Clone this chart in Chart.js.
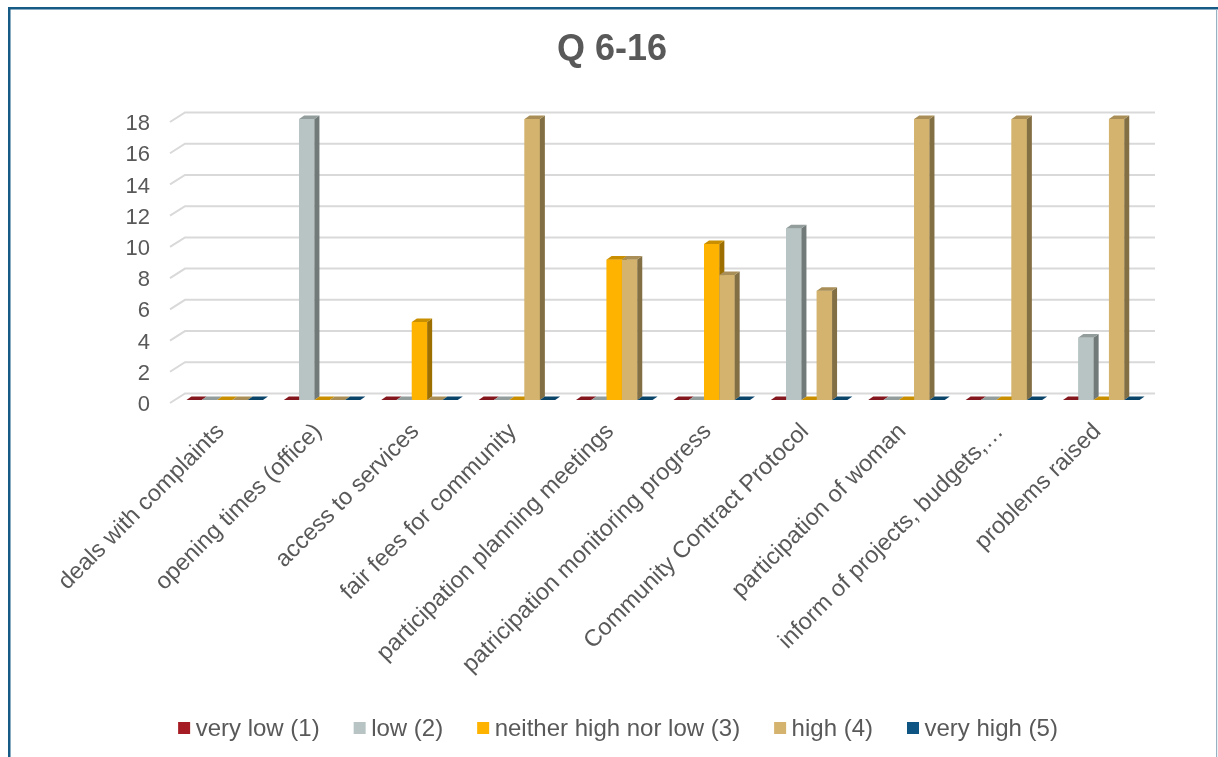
<!DOCTYPE html>
<html>
<head>
<meta charset="utf-8">
<script src="https://cdn.jsdelivr.net/npm/chart.js@4.4.1/dist/chart.umd.min.js"></script>
<style>
  html, body { margin: 0; padding: 0; background: #ffffff; }
  canvas { display: block; }
</style>
</head>
<body>
<canvas id="chart" width="1218" height="757"></canvas>
<script>
// Survey question Q 6-16: number of answers per rating level
const categories = [
  'deals with complaints',
  'opening times (office)',
  'access to services',
  'fair fees for community',
  'participation planning meetings',
  'patricipation monitoring progress',
  'Community Contract Protocol',
  'participation of woman',
  'inform of projects, budgets,…',
  'problems raised'
];
const seriesNames = ['very low (1)', 'low (2)', 'neither high nor low (3)', 'high (4)', 'very high (5)'];
const veryLow  = [0, 0, 0, 0, 0, 0, 0, 0, 0, 0];
const low      = [0, 18, 0, 0, 0, 0, 11, 0, 0, 4];
const neither  = [0, 0, 5, 0, 9, 10, 0, 0, 0, 0];
const high     = [0, 0, 0, 18, 9, 8, 7, 18, 18, 18];
const veryHigh = [0, 0, 0, 0, 0, 0, 0, 0, 0, 0];
const yTicks   = [0, 2, 4, 6, 8, 10, 12, 14, 16, 18];
const seriesColors = ['#A51C24', '#B7C4C3', '#FDB300', '#D3B36D', '#0E5583'];

const FONT = "'Liberation Sans', Arial, sans-serif";
const TEXT = '#595959';
const DEPTH_X = 5, DEPTH_Y = -3.5;   // offset of the bars' side/top faces

function shade(hex, f) {
  const n = parseInt(hex.slice(1), 16);
  const r = Math.round(((n >> 16) & 255) * f);
  const g = Math.round(((n >> 8) & 255) * f);
  const b = Math.round((n & 255) * f);
  return `rgb(${r},${g},${b})`;
}

// Draws the back-wall gridlines, the 3D bar faces, the frame, title and legend
const depthPlugin = {
  id: 'depth',
  beforeDatasetsDraw(chart) {
    const { ctx } = chart;
    const ys = chart.scales.y;
    ctx.save();
    ctx.strokeStyle = '#d9d9d9';
    ctx.lineWidth = 2;
    yTicks.forEach(v => {
      const yb = ys.getPixelForValue(v);
      ctx.beginPath();
      ctx.moveTo(170, yb + 3);
      ctx.lineTo(185, yb - 6.5);
      ctx.lineTo(1155, yb - 6.5);
      ctx.stroke();
    });
    ctx.restore();
  },
  afterDatasetsDraw(chart) {
    const { ctx } = chart;
    const n = chart.data.labels.length;
    ctx.save();
    for (let j = 0; j < n; j++) {
      chart.data.datasets.forEach((ds, i) => {
        const el = chart.getDatasetMeta(i).data[j];
        const { x, y, base, width } = el.getProps(['x', 'y', 'base', 'width'], true);
        const l = x - width / 2, r = x + width / 2;
        const top = Math.min(y, base), bot = Math.max(y, base);
        const col = seriesColors[i];
        // front face
        ctx.fillStyle = col;
        ctx.fillRect(l, top, width, bot - top);
        // side face
        ctx.fillStyle = shade(col, 0.62);
        ctx.beginPath();
        ctx.moveTo(r, top);
        ctx.lineTo(r + DEPTH_X, top + DEPTH_Y);
        ctx.lineTo(r + DEPTH_X, bot + DEPTH_Y);
        ctx.lineTo(r, bot);
        ctx.closePath();
        ctx.fill();
        // top face
        ctx.fillStyle = shade(col, 0.8);
        ctx.beginPath();
        ctx.moveTo(l, top);
        ctx.lineTo(l + DEPTH_X, top + DEPTH_Y);
        ctx.lineTo(r + DEPTH_X, top + DEPTH_Y);
        ctx.lineTo(r, top);
        ctx.closePath();
        ctx.fill();
      });
    }
    ctx.restore();
  },
  afterDraw(chart) {
    const { ctx } = chart;
    ctx.save();
    // frame
    ctx.fillStyle = '#165B86';
    ctx.fillRect(8, 7, 1210, 2.5);
    ctx.fillRect(8, 7, 2.5, 750);
    ctx.fillStyle = '#97B3C3';
    ctx.fillRect(1216, 9, 1.2, 748);
    // title
    ctx.fillStyle = TEXT;
    ctx.font = `bold 36px ${FONT}`;
    ctx.textAlign = 'center';
    ctx.textBaseline = 'middle';
    ctx.fillText('Q 6-16', 612, 50);
    // legend
    ctx.font = `24px ${FONT}`;
    ctx.textAlign = 'left';
    const box = 12, gap = 5.5, spacing = 34;
    const widths = seriesNames.map(s => ctx.measureText(s).width);
    const total = widths.reduce((a, w) => a + box + gap + w, 0) + spacing * (seriesNames.length - 1);
    let lx = 618 - total / 2;
    const ly = 728;
    seriesNames.forEach((s, i) => {
      ctx.fillStyle = seriesColors[i];
      ctx.fillRect(lx, ly - box / 2, box, box);
      ctx.fillStyle = TEXT;
      ctx.fillText(s, lx + box + gap, ly + 1);
      lx += box + gap + widths[i] + spacing;
    });
    ctx.restore();
  }
};

const series = [veryLow, low, neither, high, veryHigh];

new Chart(document.getElementById('chart'), {
  type: 'bar',
  data: {
    labels: categories,
    datasets: series.map((vals, i) => ({
      label: seriesNames[i],
      data: vals,
      backgroundColor: seriesColors[i],
      borderWidth: 0,
      categoryPercentage: 0.786,
      barPercentage: 1.0
    }))
  },
  options: {
    responsive: false,
    animation: false,
    devicePixelRatio: 1,
    layout: { padding: { left: 0, right: 68, top: 119, bottom: 0 } },
    plugins: {
      legend: { display: false },
      title: { display: false },
      tooltip: { enabled: false }
    },
    scales: {
      x: {
        grid: { display: false, drawTicks: false },
        border: { display: false },
        ticks: {
          color: TEXT,
          font: { family: FONT, size: 23.5 },
          minRotation: 45,
          maxRotation: 45,
          padding: 18,
          labelOffset: -4,
          autoSkip: false
        },
        afterFit(scale) { scale.height = 357; }
      },
      y: {
        min: 0,
        max: 18,
        grid: { display: false, drawTicks: false },
        border: { display: false },
        ticks: {
          stepSize: 2,
          color: TEXT,
          font: { family: FONT, size: 22 },
          padding: 26,
          labelOffset: 5
        },
        afterFit(scale) { scale.width = 176; }
      }
    }
  },
  plugins: [depthPlugin]
});
</script>
</body>
</html>
